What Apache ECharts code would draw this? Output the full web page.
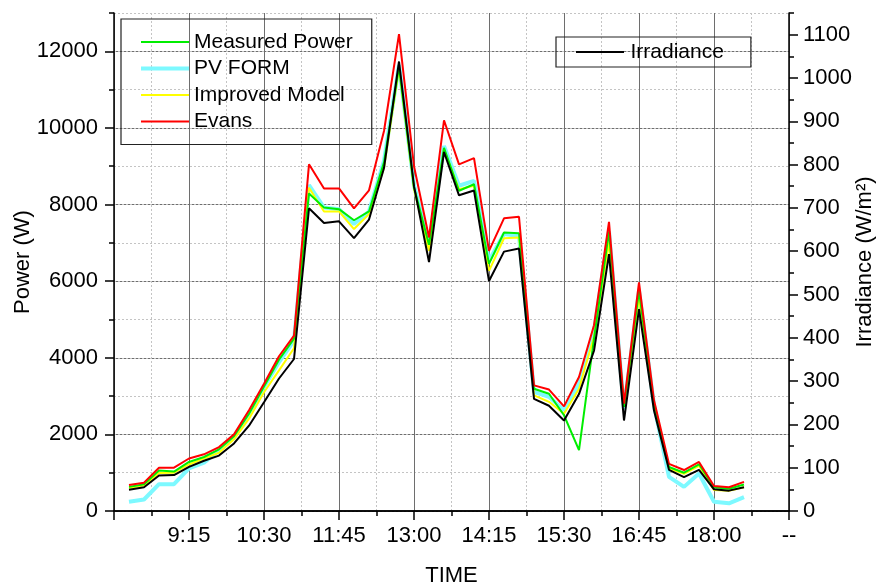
<!DOCTYPE html>
<html>
<head>
<meta charset="utf-8">
<script src="https://cdn.jsdelivr.net/npm/echarts@6/dist/echarts.min.js"></script>
<style>
html,body{margin:0;padding:0;background:#fff;}
#chart{width:881px;height:586px;}
</style>
</head>
<body>
<div id="chart"></div>
<script>
var times = ['8:15','8:30','8:45','9:00','9:15','9:30','9:45','10:00','10:15','10:30','10:45','11:00','11:15','11:30','11:45','12:00','12:15','12:30','12:45','13:00','13:15','13:30','13:45','14:00','14:15','14:30','14:45','15:00','15:15','15:30','15:45','16:00','16:15','16:30','16:45','17:00','17:15','17:30','17:45','18:00','18:15','18:30'];
var measuredPower = [630,700,1060,1030,1280,1410,1610,1950,2540,3250,3950,4500,8290,7920,7880,7590,7820,9100,11600,8450,6950,9480,8360,8530,6450,7270,7250,3190,3060,2500,1590,4500,7300,2720,5750,2760,1150,1000,1220,620,580,690];
var pvForm = [240,300,700,700,1110,1260,1590,1930,2540,3240,3890,4450,8510,7920,7880,7490,7820,9140,11640,8500,6970,9530,8490,8620,6530,7230,7180,3110,2980,2630,3320,4700,7300,2650,5750,2760,890,630,980,240,200,360];
var improvedModel = [600,670,990,1000,1215,1370,1520,1870,2410,3100,3670,4250,8440,7820,7820,7360,7750,8960,11560,8400,6790,9440,8400,8490,6270,7120,7140,3020,2850,2540,3190,4550,7010,2716,5580,2700,1110,970,1180,550,530,620];
var evans = [680,740,1130,1130,1370,1480,1670,2000,2630,3320,4040,4580,9050,8420,8420,7900,8370,9920,12450,9000,7140,10200,9050,9210,6790,7640,7680,3280,3170,2730,3500,4850,7550,2800,5970,2890,1230,1070,1280,650,620,760];
var irradiance = [49,55,82,83,102,116,128,156,197,251,306,351,699,665,669,630,673,792,1038,750,575,829,729,740,531,599,606,259,243,209,270,370,593,209,466,232,95,78,95,50,47,55];
var powerTicks = [0,2000,4000,6000,8000,10000,12000];
var irrTicks = [0,100,200,300,400,500,600,700,800,900,1000,1100];

var START = 8*60; // axis origin 8:00
function toMin(t){var p=t.split(':');return (+p[0])*60+(+p[1])-START;}
function pairs(arr){return arr.map(function(v,i){return [toMin(times[i]), v];});}
function fmtTime(v){
  if (v === 0) return '';
  if (v >= 675) return '--';
  var m = v + START; var h = Math.floor(m/60); var mm = m % 60;
  return h + ':' + (mm < 10 ? '0' : '') + mm;
}
function plain(v){return String(v);}
function lineIcon(h){ // horizontal bar icon of thickness h inside a 48x22 box
  var a = 11 - h/2, b = 11 + h/2;
  return 'path://M0,0L0,0M48,22L48,22M0,' + a + 'L48,' + a + 'L48,' + b + 'L0,' + b + 'Z';
}
var FONT = 'Liberation Sans, Arial, sans-serif';
var chart = echarts.init(document.getElementById('chart'), null, {renderer:'canvas'});
var axisLineStyle = {color:'#000', width:1.5};
var gridRect = {left:114, top:13, width:675, height:498, containLabel:false, outerBoundsMode:'none'};
var option = {
  animation:false,
  backgroundColor:'#fff',
  grid:[Object.assign({}, gridRect), Object.assign({}, gridRect)],
  legend:[{
    data:[{name:'Measured Power', icon:lineIcon(2)},{name:'PV FORM', icon:lineIcon(4)},{name:'Improved Model', icon:lineIcon(2)},{name:'Evans', icon:lineIcon(2)}],
    orient:'vertical', left:121, top:19,
    padding:[12,19,12,20],
    itemWidth:48, itemHeight:22, itemGap:4.5,
    borderColor:'#222', borderWidth:1.2,
    textStyle:{fontFamily:FONT, fontSize:21, color:'#000'},
    selectedMode:false
  },{
    data:[{name:'Irradiance', icon:lineIcon(2)}],
    left:556, top:37,
    padding:[4,27,4,20],
    itemWidth:51, itemHeight:22,
    borderColor:'#222', borderWidth:1.2,
    textStyle:{fontFamily:FONT, fontSize:21, color:'#000'},
    selectedMode:false
  }],
  xAxis:[{
    gridIndex:0, type:'value', position:'bottom', min:0, max:675, interval:75,
    name:'TIME', nameLocation:'middle', nameGap:54, nameMoveOverlap:false,
    nameTextStyle:{fontFamily:FONT, fontSize:22, color:'#000'},
    axisLine:{lineStyle:axisLineStyle},
    axisTick:{length:9, lineStyle:{color:'#000', width:1.5}},
    minorTick:{show:true, splitNumber:2, length:5, lineStyle:{color:'#000', width:1.5}},
    axisLabel:{formatter:fmtTime, fontFamily:FONT, fontSize:22, color:'#000', margin:14, showMinLabel:true, showMaxLabel:true},
    splitLine:{show:true, lineStyle:{color:'#6e6e6e', width:1}},
    minorSplitLine:{show:true, lineStyle:{color:'#c4c4c4', width:1, type:[2,2]}}
  },{
    gridIndex:1, type:'value', position:'top', min:0, max:675, interval:75,
    axisLine:{lineStyle:axisLineStyle},
    axisTick:{inside:true, length:9, lineStyle:{color:'#000', width:1.5}},
    minorTick:{show:true, splitNumber:2, length:5, lineStyle:{color:'#000', width:1.5}},
    axisLabel:{show:false},
    splitLine:{show:false}
  }],
  yAxis:[{
    gridIndex:0, type:'value', position:'left', min:0, max:13000, interval:2000,
    name:'Power (W)', nameLocation:'middle', nameGap:80, nameMoveOverlap:false,
    nameTextStyle:{fontFamily:FONT, fontSize:22, color:'#000'},
    axisLine:{show:true, lineStyle:axisLineStyle},
    axisTick:{show:true, length:9, customValues:powerTicks, lineStyle:{color:'#000', width:1.5}},
    axisLabel:{customValues:powerTicks, formatter:plain, fontFamily:FONT, fontSize:22, color:'#000', margin:16},
    splitLine:{show:true, lineStyle:{color:'#6e6e6e', width:1}}
  },{
    gridIndex:0, type:'value', position:'right', min:0, max:1150, interval:100,
    name:'Irradiance (W/m²)', nameLocation:'middle', nameGap:65, nameMoveOverlap:false,
    nameTextStyle:{fontFamily:FONT, fontSize:22, color:'#000'},
    axisLine:{show:true, lineStyle:axisLineStyle},
    axisTick:{show:true, length:9, customValues:irrTicks, lineStyle:{color:'#000', width:1.5}},
    axisLabel:{customValues:irrTicks, formatter:plain, fontFamily:FONT, fontSize:22, color:'#000', margin:14},
    splitLine:{show:false}
  },{
    gridIndex:1, type:'value', position:'left', min:0, max:13000, interval:1000, offset:0,
    axisLine:{show:false},
    axisTick:{show:true, length:5, lineStyle:{color:'#000', width:1.5}},
    axisLabel:{show:false},
    splitLine:{show:true, lineStyle:{color:'#c4c4c4', width:1, type:[2,2]}},
    z:0
  },{
    gridIndex:1, type:'value', position:'right', min:0, max:1150, interval:50, offset:0,
    axisLine:{show:false},
    axisTick:{show:true, length:5, lineStyle:{color:'#000', width:1.5}},
    axisLabel:{show:false},
    splitLine:{show:false}
  }],
  series:[{
    name:'PV FORM', type:'line', xAxisIndex:0, yAxisIndex:0, symbol:'none', z:2,
    data:pairs(pvForm), lineStyle:{color:'#7df9ff', width:4}, itemStyle:{color:'#7df9ff'}
  },{
    name:'Improved Model', type:'line', xAxisIndex:0, yAxisIndex:0, symbol:'none', z:3,
    data:pairs(improvedModel), lineStyle:{color:'#ffff00', width:2}, itemStyle:{color:'#ffff00'}
  },{
    name:'Measured Power', type:'line', xAxisIndex:0, yAxisIndex:0, symbol:'none', z:4,
    data:pairs(measuredPower), lineStyle:{color:'#00ee00', width:2}, itemStyle:{color:'#00ee00'}
  },{
    name:'Evans', type:'line', xAxisIndex:0, yAxisIndex:0, symbol:'none', z:5,
    data:pairs(evans), lineStyle:{color:'#ff0000', width:2}, itemStyle:{color:'#ff0000'}
  },{
    name:'Irradiance', type:'line', xAxisIndex:0, yAxisIndex:1, symbol:'none', z:6,
    data:pairs(irradiance), lineStyle:{color:'#000000', width:2}, itemStyle:{color:'#000000'}
  }]
};
chart.setOption(option);
</script>
</body>
</html>
